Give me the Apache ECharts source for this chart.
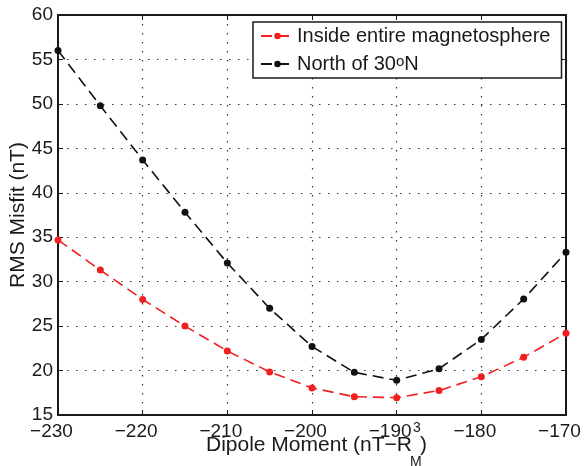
<!DOCTYPE html>
<html>
<head>
<meta charset="utf-8">
<script src="https://cdn.jsdelivr.net/npm/echarts@6/dist/echarts.min.js"></script>
<style>
html,body{margin:0;padding:0;background:#fff;}
#chart{width:586px;height:466px;}
</style>
</head>
<body>
<div id="chart"></div>
<script>
var dipoleMoment = [-230, -225, -220, -215, -210, -205, -200, -195, -190, -185, -180, -175, -170];
var insideEntire = [34.7, 31.3, 28.0, 25.0, 22.2, 19.85, 18.05, 17.05, 16.95, 17.75, 19.3, 21.5, 24.2];
var northOf30 = [56.0, 49.8, 43.7, 37.8, 32.1, 27.0, 22.7, 19.8, 18.9, 20.2, 23.5, 28.05, 33.3];
var seriesNames = ['Inside entire magnetosphere', 'North of 30oN'];
var xTicks = {min: -230, max: -170, interval: 10};
var yTicks = {min: 15, max: 60, interval: 5};

var FONT = '"Liberation Sans", Arial, Helvetica, sans-serif';
function pairs(ys) { return dipoleMoment.map(function (x, i) { return [x, ys[i]]; }); }
function minus(v) { return String(v).replace('-', '\u2212'); }

var axisLine = {show: true, onZero: false, lineStyle: {color: '#1a1a1a', width: 2}};
var axisTick = {show: true, inside: true, length: 5, lineStyle: {color: '#1a1a1a', width: 1}};
var split = {show: true, lineStyle: {color: '#333', width: 1.2, type: [1.5, 7.5]}};

var chart = echarts.init(document.getElementById('chart'), null, {renderer: 'canvas'});
chart.setOption({
  animation: false,
  backgroundColor: '#fff',
  grid: {left: 58, right: 20, top: 15, bottom: 51, containLabel: false, outerBoundsMode: 'none'},
  xAxis: [{
    type: 'value', min: xTicks.min, max: xTicks.max, interval: xTicks.interval,
    axisLine: axisLine, axisTick: axisTick, splitLine: split,
    axisLabel: {formatter: minus, color: '#1a1a1a', fontSize: 19, fontFamily: FONT, margin: 7, padding: [0, 13, 0, 0]}
  }, {
    type: 'value', position: 'top', min: xTicks.min, max: xTicks.max, interval: xTicks.interval,
    axisLine: axisLine, axisTick: axisTick, splitLine: {show: false}, axisLabel: {show: false}
  }],
  yAxis: [{
    type: 'value', min: yTicks.min, max: yTicks.max, interval: yTicks.interval,
    axisLine: axisLine, axisTick: axisTick, splitLine: split,
    axisLabel: {color: '#1a1a1a', fontSize: 19, fontFamily: FONT, margin: 5},
    name: 'RMS Misfit (nT)', nameLocation: 'middle', nameGap: 29, nameMoveOverlap: false,
    nameTextStyle: {color: '#1a1a1a', fontSize: 21, fontFamily: FONT}
  }, {
    type: 'value', position: 'right', min: yTicks.min, max: yTicks.max, interval: yTicks.interval,
    axisLine: axisLine, axisTick: axisTick, splitLine: {show: false}, axisLabel: {show: false}
  }],
  legend: {
    orient: 'vertical', left: 253, top: 22,
    padding: [4, 11, 4, 7], itemGap: 8, itemWidth: 33, itemHeight: 8,
    backgroundColor: '#fff', borderColor: '#1a1a1a', borderWidth: 1.5, borderRadius: 0,
    data: seriesNames,
    formatter: function (n) { return n === seriesNames[1] ? 'North of 30{sup|o}N' : n; },
    textStyle: {
      color: '#1a1a1a', fontSize: 20, fontFamily: FONT, lineHeight: 20, padding: [0, 0, 0, -2],
      rich: {sup: {fontSize: 15, fontFamily: FONT, color: '#1a1a1a', verticalAlign: 'top', lineHeight: 10}}
    }
  },
  series: [{
    name: seriesNames[0], type: 'line', data: pairs(insideEntire),
    symbol: 'circle', symbolSize: 7, showSymbol: true,
    itemStyle: {color: '#f02020'},
    lineStyle: {color: '#f02020', width: 1.6, type: [11, 6]}
  }, {
    name: seriesNames[1], type: 'line', data: pairs(northOf30),
    symbol: 'circle', symbolSize: 7, showSymbol: true,
    itemStyle: {color: '#111'},
    lineStyle: {color: '#111', width: 1.6, type: [11, 6]}
  }],
  graphic: [
    {type: 'text', left: 206, top: 435, style: {text: 'Dipole Moment (nT\u2212R', fontSize: 21, fontFamily: FONT, fill: '#1a1a1a'}},
    {type: 'text', left: 413, top: 421, style: {text: '3', fontSize: 14, fontFamily: FONT, fill: '#1a1a1a'}},
    {type: 'text', left: 410, top: 455, style: {text: 'M', fontSize: 14, fontFamily: FONT, fill: '#1a1a1a'}},
    {type: 'text', left: 420, top: 435, style: {text: ')', fontSize: 21, fontFamily: FONT, fill: '#1a1a1a'}}
  ]
});
</script>
</body>
</html>
